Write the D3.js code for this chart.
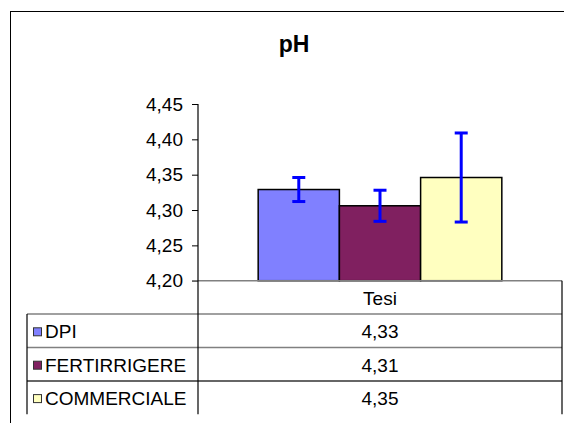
<!DOCTYPE html>
<html>
<head>
<meta charset="utf-8">
<script src="https://cdn.jsdelivr.net/npm/d3@7"></script>
<style>
  html, body { margin: 0; padding: 0; background: #fff; }
  svg { display: block; font-family: "Liberation Sans", Arial, sans-serif; }
</style>
</head>
<body>
<svg id="chart" width="564" height="423"></svg>
<script>
// pH per treatment ("Tesi"), with standard-deviation error bars
const category = "Tesi";
const series = ["DPI", "FERTIRRIGERE", "COMMERCIALE"];
const values = [4.329, 4.306, 4.346];
const errors = [0.017, 0.022, 0.063];
const colors = ["#8080FF", "#802060", "#FFFFC0"];
const yTicks = [4.20, 4.25, 4.30, 4.35, 4.40, 4.45];
const title = "pH";

const fmt = v => d3.format(".2f")(v).replace(".", ",");

const svg = d3.select("#chart");

// plot box
const plotLeft = 198, plotRight = 562, plotTop = 104, plotBottom = 280.7;
const rowH = 33.4;
const tableLeft = 27;
const tableFont = 19;

// chart frame (runs past the right and bottom edges)
svg.append("rect")
  .attr("x", 10.5).attr("y", 11.5)
  .attr("width", 700).attr("height", 600)
  .attr("fill", "none").attr("stroke", "#000").attr("stroke-width", 1);

// title
svg.append("text")
  .attr("x", 294).attr("y", 52)
  .attr("text-anchor", "middle")
  .attr("font-size", 23).attr("font-weight", "bold")
  .text(title);

const y = d3.scaleLinear().domain([4.20, 4.45]).range([plotBottom, plotTop]);

const x0 = d3.scaleBand().domain([category])
  .range([plotLeft, plotRight]).paddingInner(0).paddingOuter(0.247);
const x1 = d3.scaleBand().domain(series)
  .range([0, x0.bandwidth()]).padding(0);

// y axis
const yAxis = d3.axisLeft(y).tickValues(yTicks).tickFormat(fmt).tickSize(6).tickPadding(9);
const gy = svg.append("g").attr("transform", `translate(${plotLeft},0)`).call(yAxis);
gy.select(".domain").remove();
gy.selectAll(".tick line").attr("stroke", "#000");
gy.selectAll(".tick text").attr("font-size", 19).attr("fill", "#000")
  .attr("font-family", "Liberation Sans, Arial, sans-serif");

// bars
const g = svg.append("g").attr("transform", `translate(${x0(category)},0)`);
g.selectAll("rect.bar").data(series).join("rect")
  .attr("class", "bar")
  .attr("x", d => x1(d))
  .attr("y", (d, i) => y(values[i]))
  .attr("width", x1.bandwidth())
  .attr("height", (d, i) => y(4.20) - y(values[i]))
  .attr("fill", (d, i) => colors[i])
  .attr("stroke", "#000").attr("stroke-width", 1.5);

// error bars
const cap = 6.5;
const eb = g.selectAll("g.err").data(series).join("g").attr("class", "err")
  .attr("transform", d => `translate(${x1(d) + x1.bandwidth() / 2},0)`);
eb.append("line")
  .attr("x1", 0).attr("x2", 0)
  .attr("y1", (d, i) => y(values[i] + errors[i]))
  .attr("y2", (d, i) => y(values[i] - errors[i]));
eb.append("line")
  .attr("x1", -cap).attr("x2", cap)
  .attr("y1", (d, i) => y(values[i] + errors[i]))
  .attr("y2", (d, i) => y(values[i] + errors[i]));
eb.append("line")
  .attr("x1", -cap).attr("x2", cap)
  .attr("y1", (d, i) => y(values[i] - errors[i]))
  .attr("y2", (d, i) => y(values[i] - errors[i]));
eb.selectAll("line").attr("stroke", "#0000FF").attr("stroke-width", 3);

// data table
const tableBottom = plotBottom + rowH * (series.length + 1);
const hLine = (x1p, x2p, yp, col) => svg.append("line")
  .attr("x1", x1p).attr("x2", x2p).attr("y1", yp).attr("y2", yp)
  .attr("stroke", col).attr("stroke-width", 1.5);
const vLine = (xp, y1p, y2p) => svg.append("line")
  .attr("x1", xp).attr("x2", xp).attr("y1", y1p).attr("y2", y2p)
  .attr("stroke", "#000").attr("stroke-width", 1.2);

// category axis line at the base of the bars
hLine(plotLeft - 6, plotRight, plotBottom, "#808080");
for (let r = 1; r <= series.length; r++) {
  hLine(tableLeft, plotRight, plotBottom + rowH * r, r === series.length ? "#333" : "#808080");
}
vLine(plotLeft, plotTop, tableBottom);
vLine(plotRight, plotBottom, tableBottom);
vLine(tableLeft, plotBottom + rowH, tableBottom);

const colMid = (plotLeft + plotRight) / 2;
svg.append("text")
  .attr("x", colMid).attr("y", plotBottom + rowH / 2)
  .attr("dy", "0.4em").attr("text-anchor", "middle")
  .attr("font-size", tableFont).text(category);

const rows = svg.selectAll("g.row").data(series).join("g").attr("class", "row")
  .attr("transform", (d, i) => `translate(0,${plotBottom + rowH * (i + 1) + rowH / 2})`);
rows.append("rect")
  .attr("x", 33.5).attr("y", -3)
  .attr("width", 8).attr("height", 8)
  .attr("fill", (d, i) => colors[i])
  .attr("stroke", "#333").attr("stroke-width", 1);
rows.append("text")
  .attr("x", 45).attr("dy", "0.4em")
  .attr("font-size", tableFont).text(d => d);
rows.append("text")
  .attr("x", colMid).attr("dy", "0.4em").attr("text-anchor", "middle")
  .attr("font-size", tableFont).text((d, i) => fmt(values[i]));
</script>
</body>
</html>
